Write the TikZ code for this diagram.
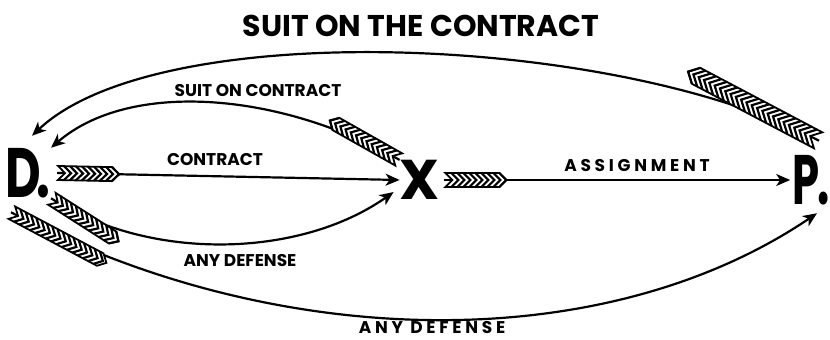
\documentclass[tikz,border=0pt]{standalone}
\usepackage{fontspec}
\usepackage{graphicx}
\newfontfamily\gothic{Poppins}
\usetikzlibrary{arrows.meta,decorations.markings}

% feathered tail of an arrow, length \qlen, half width \qw
\tikzset{
  quill/.pic={
    \path[-, fill=white, draw=black, line width=0.9pt, line join=miter]
      (0,\qw) -- (\qlen,\qw) -- ++(\qw,-\qw) -- ++(-\qw,-\qw) -- (0,-\qw) -- (\qw,0) -- cycle;
    \foreach \s in {6,12,...,\qlen}
      \draw[-, line width=1.1pt] (\s,\qw) -- ++(\qw,-\qw) -- ++(-\qw,-\qw);
  }
}

\begin{document}
\begin{tikzpicture}[x=0.5pt, y=-0.5pt,
   arr/.style={line width=1.1pt, -{Stealth[length=7pt,width=6pt,inset=2pt]}},
   fletched/.style 2 args={postaction={decorate, decoration={markings,
       mark=at position 0.5pt with {\def\qlen{#1}\def\qw{#2}\pic[transform shape]{quill};}}}},
   letter/.style={font=\gothic\bfseries\fontsize{35}{35}\selectfont, inner sep=0pt},
   lbl/.style={font=\gothic\bfseries\fontsize{8.5}{10}\selectfont, inner sep=0pt},
   wide/.style={font=\gothic\bfseries\fontsize{8.5}{10}\selectfont\addfontfeature{LetterSpace=22}, inner sep=0pt}]
  \useasboundingbox (0,0) rectangle (830,340);

  \node[letter] (D) at (28,173) {\scalebox{.7}[1]{D\kern-3pt.}};
  \node[letter, font=\gothic\bfseries\fontsize{28}{28}\selectfont] (X) at (420,180) {X};
  \node[letter] (P) at (811,180) {\scalebox{.62}[1]{P\kern-2pt.}};

  % straight ones
  \draw[arr, fletched={54}{7}] ([xshift=3pt]D.east) -- (X.west);
  \draw[arr, fletched={54}{7}] ([xshift=2pt]X.east) -- ([xshift=-1pt]P.west);
  % over the top
  \draw[arr, fletched={72}{7}] (X.north west)
       .. controls (280,92) and (130,80) .. (D.north east);
  \draw[arr, fletched={138}{9}] ([shift={(4pt,7pt)}]P.north)
       .. controls (620,35) and (160,15) .. ([shift={(2pt,6pt)}]D.north);
  % underneath
  \draw[arr, fletched={72}{7}] (D.south east)
       .. controls (150,262) and (300,258) .. ([shift={(-3pt,4pt)}]X.south west);
  \draw[arr, fletched={100}{7}] ([shift={(3pt,-7pt)}]D.south west)
       .. controls (270,350) and (600,360) .. ([shift={(3pt,-4pt)}]P.south);

  \node[lbl, font=\gothic\bfseries\fontsize{15}{17}\selectfont] (main) at (421,26) {SUIT ON THE CONTRACT};
  \node[lbl] (suit) at (258,91) {SUIT ON CONTRACT};
  \node[lbl] (con) at (215,160) {CONTRACT};
  \node[wide] (asg) at (637,166) {ASSIGNMENT};
  \node[lbl] (def) at (240,261) {ANY DEFENSE};
  \node[wide] (anydef) at (432,328) {ANY DEFENSE};
\end{tikzpicture}
\end{document}
